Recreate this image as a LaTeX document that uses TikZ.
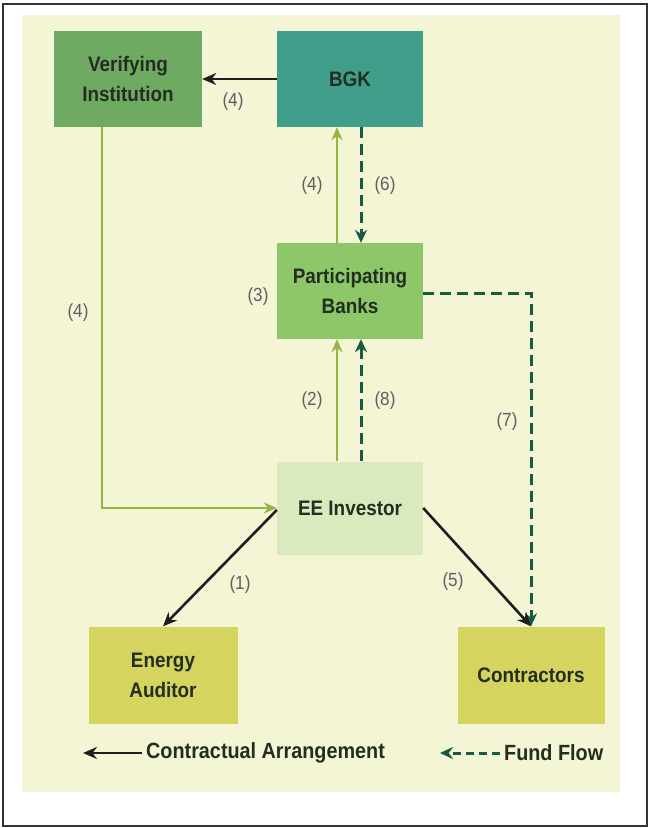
\documentclass[tikz,border=0pt]{standalone}
\usepackage{xcolor}
\usepackage{fontspec}
\setmainfont{Liberation Sans}[FakeStretch=0.9]
\usepackage{tikz}
\usetikzlibrary{positioning,shapes,arrows.meta}

\definecolor{pagebeige}{RGB}{243,245,212}
\definecolor{verifgreen}{RGB}{111,170,98}
\definecolor{bgkteal}{RGB}{64,158,139}
\definecolor{bankgreen}{RGB}{141,199,106}
\definecolor{eepale}{RGB}{219,234,190}
\definecolor{olivebox}{RGB}{213,212,95}
\definecolor{boxtext}{RGB}{36,46,32}
\definecolor{lblgray}{RGB}{95,95,95}
\definecolor{agreegreen}{RGB}{150,180,70}
\definecolor{fundteal}{RGB}{25,90,70}
\definecolor{arrowblack}{RGB}{30,30,30}

\tikzset{
  box/.style={rectangle, minimum width=147pt, minimum height=96pt, align=center,
    text=boxtext, font=\fontsize{21}{30}\selectfont\bfseries},
  lbl/.style={text=lblgray, font=\fontsize{19}{22}\selectfont},
  legtext/.style={text=boxtext, font=\fontsize{22}{24}\selectfont\bfseries, inner sep=4pt},
  contract/.style={-{Stealth[length=14pt,width=12pt]}, draw=arrowblack, line width=2.6pt},
  agree/.style={-{Stealth[length=13pt,width=11pt]}, draw=agreegreen, line width=2.4pt},
  fund/.style={-{Stealth[length=13pt,width=12pt]}, draw=fundteal, line width=3pt, dash pattern=on 11pt off 6pt},
}

\begin{document}
\begin{tikzpicture}[x=1pt, y=-1pt]
            \useasboundingbox (0,0) rectangle (650,828);
            \draw[line width=1.5pt, draw=black!80] (3,4) rectangle (647,826);
            \fill[pagebeige] (22,15) rectangle (620,792);

            \node[box, fill=verifgreen, minimum width=148pt] (verif) at (128,79) {Verifying\\Institution};
            \node[box, fill=bgkteal, minimum width=146pt] (bgk) at (350,79) {BGK};
            \node[box, fill=bankgreen, minimum width=146pt] (banks) at (350,291) {Participating\\Banks};
            \node[box, fill=eepale, minimum width=146pt, minimum height=93pt] (ee) at (350,508) {EE Investor};
            \node[box, fill=olivebox, minimum width=149pt, minimum height=97pt] (auditor) at (163,675) {Energy\\Auditor};
            \node[box, fill=olivebox, minimum height=97pt] (contr) at (531,675) {Contractors};

            \draw[contract] (bgk.west) -- (verif.east);
            \draw[agree] ([xshift=-13pt]banks.north) -- ([xshift=-13pt]bgk.south);
            \draw[fund] ([xshift=11pt]bgk.south) -- ([xshift=11pt]banks.north);
            \draw[agree] ([xshift=-13pt]ee.north) -- ([xshift=-13pt]banks.south);
            \draw[fund] ([xshift=11pt]ee.north) -- ([xshift=11pt]banks.south);
            \draw[agree] ([xshift=-26pt]verif.south) |- (ee.west);
            \draw[fund] ([yshift=-2pt]banks.east) -| (contr.north);
            \draw[contract] ([yshift=-2pt]ee.west) -- (auditor.north);
            \draw[contract] (ee.east) -- (contr.north);

            \node[lbl] (n4a) at (233,102) {(4)};
            \node[lbl] (n4b) at (312,186) {(4)};
            \node[lbl] (n6) at (385,186) {(6)};
            \node[lbl] (n4c) at (78,313) {(4)};
            \node[lbl] (n3) at (258,297) {(3)};
            \node[lbl] (n2) at (312,401) {(2)};
            \node[lbl] (n8) at (385,401) {(8)};
            \node[lbl] (n7) at (507,422) {(7)};
            \node[lbl] (n1) at (240,585) {(1)};
            \node[lbl] (n5) at (453,582) {(5)};

            % legend
            \node[legtext, anchor=west] (legc) at (142,753) {Contractual Arrangement};
            \coordinate (legcend) at (83,753);
            \draw[contract] (legc.west) -- (legcend);
            \node[legtext, anchor=west] (legf) at (500,753) {Fund Flow};
            \coordinate (legfend) at (440,753);
            \draw[fund, dash pattern=on 8pt off 5pt] (legf.west) -- (legfend);
        \end{tikzpicture}
\end{document}
